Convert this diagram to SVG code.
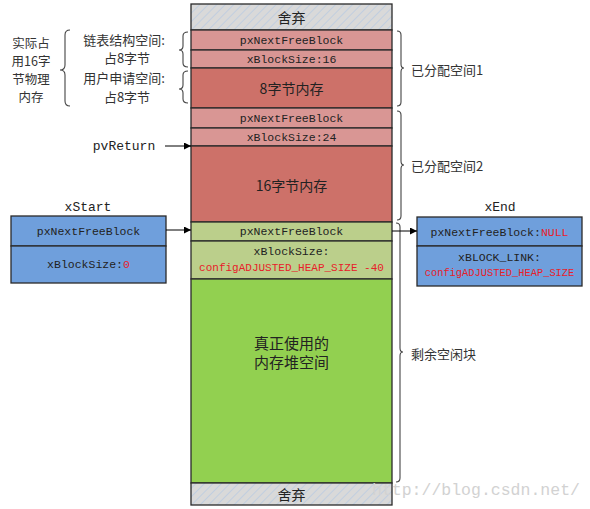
<svg xmlns="http://www.w3.org/2000/svg" width="590" height="509" viewBox="0 0 590 509">
<defs>
<pattern id="hatch" width="6" height="6" patternUnits="userSpaceOnUse" patternTransform="rotate(45)">
<rect width="6" height="6" fill="#d9d9d9"/>
<line x1="0" y1="0" x2="0" y2="6" stroke="#a9c3e6" stroke-width="1"/>
</pattern>
<marker id="arr" viewBox="0 0 10 10" refX="10" refY="5" markerWidth="7" markerHeight="7" orient="auto" markerUnits="userSpaceOnUse">
<path d="M0,0 L10,5 L0,10 z" fill="#000"/>
</marker>
<style>
.cell{stroke:#2a2a2a;stroke-width:1.3}
.mono{font-family:"Liberation Mono","Noto Sans CJK SC",monospace;font-size:11.5px;fill:#222;text-anchor:middle;dominant-baseline:central}
.cjk{font-family:"Noto Sans CJK SC","Liberation Serif",serif;font-size:14px;fill:#222;text-anchor:middle;dominant-baseline:central}
.side{font-family:"Noto Sans CJK SC","Liberation Serif",serif;font-size:12.5px;fill:#333;text-anchor:middle;dominant-baseline:central}
.lbl{font-family:"Noto Sans CJK SC","Liberation Serif",serif;font-size:13px;fill:#333;dominant-baseline:central}
.red{fill:#e8202a}
.brace{fill:none;stroke:#444;stroke-width:1.1}
.conn{stroke:#000;stroke-width:1;fill:none}
</style>
</defs>
<rect width="590" height="509" fill="#fff"/>

<g id="discard-top">
<rect class="cell" x="191" y="4" width="201" height="26" fill="url(#hatch)"/>
<text class="cjk" x="291.5" y="17">舍弃</text>
</g>
<g id="block1">
<rect class="cell" x="191" y="30" width="201" height="20" fill="#d99694"/>
<text class="mono" x="291.5" y="40">pxNextFreeBlock</text>
<rect class="cell" x="191" y="50" width="201" height="18" fill="#d99694"/>
<text class="mono" x="291.5" y="59">xBlockSize:16</text>
<rect class="cell" x="191" y="68" width="201" height="40" fill="#cd7169"/>
<text class="cjk" x="291.5" y="88">8字节内存</text>
</g>
<g id="block2">
<rect class="cell" x="191" y="108" width="201" height="20" fill="#d99694"/>
<text class="mono" x="291.5" y="118">pxNextFreeBlock</text>
<rect class="cell" x="191" y="128" width="201" height="18" fill="#d99694"/>
<text class="mono" x="291.5" y="137">xBlockSize:24</text>
<rect class="cell" x="191" y="146" width="201" height="76" fill="#cd7169"/>
<text class="cjk" x="291.5" y="185">16字节内存</text>
</g>
<g id="freeblock">
<rect class="cell" x="191" y="222" width="201" height="19" fill="#bbcf8b"/>
<text class="mono" x="291.5" y="231">pxNextFreeBlock</text>
<rect class="cell" x="191" y="241" width="201" height="38" fill="#bbcf8b"/>
<text class="mono" x="291.5" y="251">xBlockSize:</text>
<text class="mono red" x="291.5" y="268" style="font-size:11px">configADJUSTED_HEAP_SIZE -40</text>
<rect class="cell" x="191" y="279" width="201" height="204" fill="#92d050"/>
<text class="cjk" x="291.5" y="342" style="font-size:15px">真正使用的</text>
<text class="cjk" x="291.5" y="361" style="font-size:15px">内存堆空间</text>
</g>
<g id="discard-bottom">
<rect class="cell" x="191" y="483" width="201" height="22" fill="url(#hatch)"/>
<text class="cjk" x="291.5" y="494">舍弃</text>
</g>

<g id="xStart">
<text class="mono" x="88" y="207" style="font-size:13px">xStart</text>
<rect class="cell" x="11" y="216" width="155" height="30" fill="#6f9fdc"/>
<rect class="cell" x="11" y="246" width="155" height="37" fill="#6f9fdc"/>
<text class="mono" x="88.5" y="231">pxNextFreeBlock</text>
<text class="mono" x="88.5" y="264">xBlockSize:<tspan class="red">0</tspan></text>
</g>
<g id="xEnd">
<text class="mono" x="500" y="207" style="font-size:13px">xEnd</text>
<rect class="cell" x="417" y="217" width="165" height="29" fill="#6f9fdc"/>
<rect class="cell" x="417" y="246" width="165" height="40" fill="#6f9fdc"/>
<text class="mono" x="499.5" y="232">pxNextFreeBlock:<tspan class="red">NULL</tspan></text>
<text class="mono" x="499.5" y="257">xBLOCK_LINK:</text>
<text class="mono red" x="499.5" y="273" style="font-size:10.4px">configADJUSTED_HEAP_SIZE</text>
</g>

<g id="pvReturn">
<text class="mono" x="124" y="146" style="font-size:13px">pvReturn</text>
</g>

<g id="left-labels">
<text class="side" x="31" y="42">实际占</text>
<text class="side" x="31" y="60">用16字</text>
<text class="side" x="31" y="78">节物理</text>
<text class="side" x="31" y="96">内存</text>
<text class="side" x="124" y="39" style="font-size:13px">链表结构空间:</text>
<text class="side" x="127" y="57" style="font-size:13px">占8字节</text>
<text class="side" x="124" y="77" style="font-size:13px">用户申请空间:</text>
<text class="side" x="127" y="96" style="font-size:13px">占8字节</text>
</g>

<g id="right-labels">
<text class="lbl" x="411" y="69">已分配空间1</text>
<text class="lbl" x="411" y="165">已分配空间2</text>
<text class="lbl" x="411" y="353">剩余空闲块</text>
</g>

<g id="braces">
<path class="brace" d="M397,31 Q401,31 401,35 L401,64 Q401,68 404,68 Q401,68 401,72 L401,102 Q401,106 397,106"/>
<path class="brace" d="M397,111 Q401,111 401,115 L401,161 Q401,165 404,165 Q401,165 401,169 L401,216 Q401,220 397,220"/>
<path class="brace" d="M396,223 Q400,223 400,227 L400,348 Q400,352 403,352 Q400,352 400,356 L400,478 Q400,482 396,482"/>
<path class="brace" d="M188,32 Q183,32 183,36 L183,46 Q183,50 179,50 Q183,50 183,54 L183,63 Q183,67 188,67"/>
<path class="brace" d="M188,71 Q183,71 183,75 L183,85 Q183,89 179,89 Q183,89 183,93 L183,99 Q183,103 188,103"/>
<path class="brace" d="M70,30 Q65,30 65,35 L65,65 Q65,70 60,70 Q65,70 65,75 L65,101 Q65,106 70,106"/>
</g>

<g id="connectors">
<line class="conn" x1="165" y1="146" x2="191" y2="146" marker-end="url(#arr)"/>
<line class="conn" x1="166" y1="230" x2="191" y2="230" marker-end="url(#arr)"/>
<line class="conn" x1="392" y1="231" x2="417" y2="231" marker-end="url(#arr)"/>
</g>

<text x="372" y="490" style="font-family:'Liberation Mono',monospace;font-size:16.5px;fill:#d2d2d2;dominant-baseline:central">http://blog.csdn.net/</text>
</svg>
